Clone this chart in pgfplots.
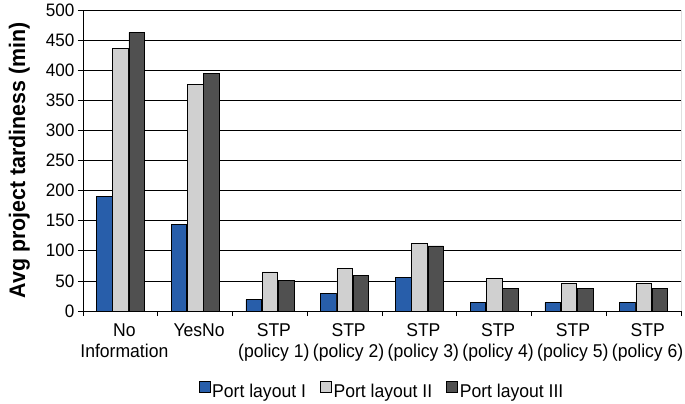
\documentclass[border=0pt]{standalone}
\usepackage{pgfplots}
\pgfplotsset{compat=1.18}
\usetikzlibrary{calc}
\usepackage{fontspec}
\setmainfont{Liberation Sans}[FakeStretch=0.95]

\definecolor{layoutA}{RGB}{40,94,170}
\definecolor{layoutB}{RGB}{208,208,208}
\definecolor{layoutC}{RGB}{80,80,80}

\begin{document}
\begin{tikzpicture}
\begin{axis}[
    scale only axis,
    width=598pt, height=301pt,
    ybar=0.8pt,
    bar width=15.5pt,
    ymin=0, ymax=500,
    ytick={0,50,...,500},
    xmin=-0.5, xmax=7.5,
    xtick={0,...,7},
    xticklabels={No\\Information, YesNo, STP\\(policy 1), STP\\(policy 2),
        STP\\(policy 3), STP\\(policy 4), STP\\(policy 5), STP\\(policy 6)},
    x tick label style={align=center, font=\fontsize{18.5}{21}\selectfont, xshift=4pt, yshift=-4pt},
    y tick label style={font=\fontsize{18}{19}\selectfont},
    /pgf/number format/assume math mode=true,
    major x tick style={draw=none},
    minor xtick={-0.5,0.5,...,7.5},
    minor tick length=5pt,
    major tick length=5pt,
    tick align=outside,
    tick pos=left,
    axis x line*=bottom,
    axis y line*=left,
    ymajorgrids,
    grid style={black, line width=0.8pt},
    axis line style={black, line width=0.8pt},
    tick style={black, line width=0.8pt},
    ylabel={\textbf{Avg project tardiness (min)}},
    ylabel style={font=\fontsize{22.5}{23}\selectfont, at={(axis description cs:-0.0886,0.5)},
        anchor=south, inner sep=0pt},
    legend columns=-1,
    legend style={at={(0.5,-0.266)}, anchor=center, draw=none,
        font=\fontsize{18.5}{19}\selectfont, inner sep=0pt,
        /tikz/every even column/.append style={column sep=12pt}},
    legend image code/.code={\draw[#1, draw=black, line width=0.6pt] (0pt,-1pt) rectangle (11pt,10pt);},
    legend cell align=left,
]
\addplot[fill=layoutA, draw=black, line width=0.6pt] coordinates {
    (0,190) (1,144) (2,19) (3,29) (4,56) (5,14) (6,14) (7,14)};
\addplot[fill=layoutB, draw=black, line width=0.6pt] coordinates {
    (0,436) (1,377) (2,65) (3,71) (4,112) (5,54) (6,46) (7,46)};
\addplot[fill=layoutC, draw=black, line width=0.6pt] coordinates {
    (0,463) (1,395) (2,51) (3,59) (4,108) (5,37) (6,37) (7,37)};
\draw[black, line width=0.8pt] (rel axis cs:1,0) -- (rel axis cs:1,1);
\legend{Port layout I, Port layout II, Port layout III}
\end{axis}
\pgfresetboundingbox
\path[use as bounding box] ($(current axis.south west)+(-83pt,-93pt)$)
    rectangle ($(current axis.north east)+(4pt,10pt)$);
\end{tikzpicture}
\end{document}
